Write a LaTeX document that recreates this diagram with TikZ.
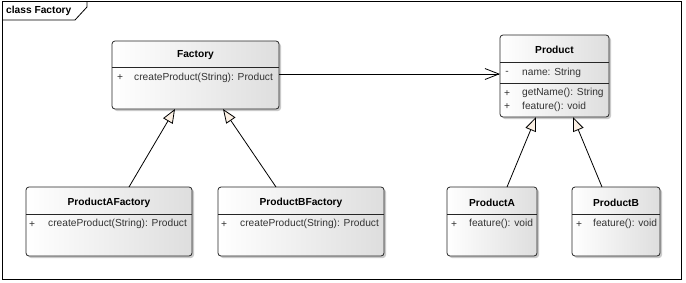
\documentclass[tikz,border=0pt]{standalone}
\usepackage{fontspec}
\setmainfont{Liberation Sans}
\usetikzlibrary{arrows.meta,shadows}
\definecolor{cream}{HTML}{FBF0E4}
\tikzset{
  classbox/.style={draw=black!85, line width=0.8pt, rounded corners=3pt, inner sep=0pt, outer sep=0pt,
    left color=white, right color=black!13,
    drop shadow={shadow xshift=2pt, shadow yshift=-2pt, opacity=0.35, fill=black!60}},
  sep/.style={draw=black!85, line width=0.8pt},
  ctitle/.style={font=\fontsize{10.2}{12}\selectfont\bfseries, inner sep=0pt},
  member/.style={font=\fontsize{10.2}{12}\selectfont, inner sep=0pt, anchor=west, text=black!80},
  vis/.style={font=\fontsize{10.2}{12}\selectfont, inner sep=0pt, text=black!80},
  inherit/.style={draw=black, line width=0.8pt, -{Triangle[open, length=14pt, width=11pt, fill=cream]}},
  assoc/.style={draw=black, line width=0.8pt, -{Straight Barb[length=14pt, width=11pt]}},
}
\begin{document}
\begin{tikzpicture}[x=1pt,y=-1pt]
\useasboundingbox (0,0) rectangle (686,282);
% frame
\draw[line width=0.8pt] (2,1) rectangle (681,279);
\draw[line width=0.8pt] (2,20) -- (75,20) -- (87,7) -- (87,1);
\node[ctitle, anchor=west] (frametitle) at (6,11) {class Factory};

% Factory
\node[classbox, minimum width=167pt, minimum height=68pt] (fac) at (195.5,75) {};
\node[ctitle] (facT) at (195.5,55.5) {Factory};
\draw[sep] (112,67) -- (279,67);
\node[vis] (facV1) at (120,78) {+};
\node[member] (facM1) at (134,78) {createProduct(String): Product};

% Product
\node[classbox, minimum width=109pt, minimum height=82pt] (prod) at (554.5,76) {};
\node[ctitle] (prodT) at (554.5,50) {Product};
\draw[sep] (500,62) -- (609,62);
\draw[sep] (500,83) -- (609,83);
\node[vis] (prodV1) at (507,73) {-};
\node[member] (prodM1) at (522,73) {name: String};
\node[vis] (prodV2) at (507,93.3) {+};
\node[member] (prodM2) at (522,93.3) {getName(): String};
\node[vis] (prodV3) at (507,106.5) {+};
\node[member] (prodM3) at (522,106.5) {feature(): void};

% ProductAFactory
\node[classbox, minimum width=166pt, minimum height=69pt] (paf) at (109,221.5) {};
\node[ctitle] (pafT) at (109,203) {ProductAFactory};
\draw[sep] (26,214) -- (192,214);
\node[vis] (pafV1) at (32,224.3) {+};
\node[member] (pafM1) at (48,224.3) {createProduct(String): Product};

% ProductBFactory
\node[classbox, minimum width=166pt, minimum height=69pt] (pbf) at (301,221.5) {};
\node[ctitle] (pbfT) at (301,203) {ProductBFactory};
\draw[sep] (218,214) -- (384,214);
\node[vis] (pbfV1) at (224,224.3) {+};
\node[member] (pbfM1) at (240,224.3) {createProduct(String): Product};

% ProductA
\node[classbox, minimum width=90pt, minimum height=69pt] (pa) at (492,221.5) {};
\node[ctitle] (paT) at (492,203) {ProductA};
\draw[sep] (447,214) -- (537,214);
\node[vis] (paV1) at (454,224.3) {+};
\node[member] (paM1) at (469,224.3) {feature(): void};

% ProductB
\node[classbox, minimum width=88pt, minimum height=69pt] (pb) at (616,221.5) {};
\node[ctitle] (pbT) at (616,203) {ProductB};
\draw[sep] (572,214) -- (660,214);
\node[vis] (pbV1) at (579,224.3) {+};
\node[member] (pbM1) at (593,224.3) {feature(): void};

% connectors
\draw[inherit] ([xshift=20pt]paf.north) -- ([xshift=-20.5pt]fac.south);
\draw[inherit] ([xshift=-25pt]pbf.north) -- ([xshift=27.5pt]fac.south);
\draw[inherit] ([xshift=15pt]pa.north) -- ([xshift=-18.5pt]prod.south);
\draw[inherit] ([xshift=-14pt]pb.north) -- ([xshift=18.5pt]prod.south);
\draw[assoc] ([yshift=1pt]fac.east) -- ([yshift=1pt]fac.east -| prod.west);
\end{tikzpicture}
\end{document}
